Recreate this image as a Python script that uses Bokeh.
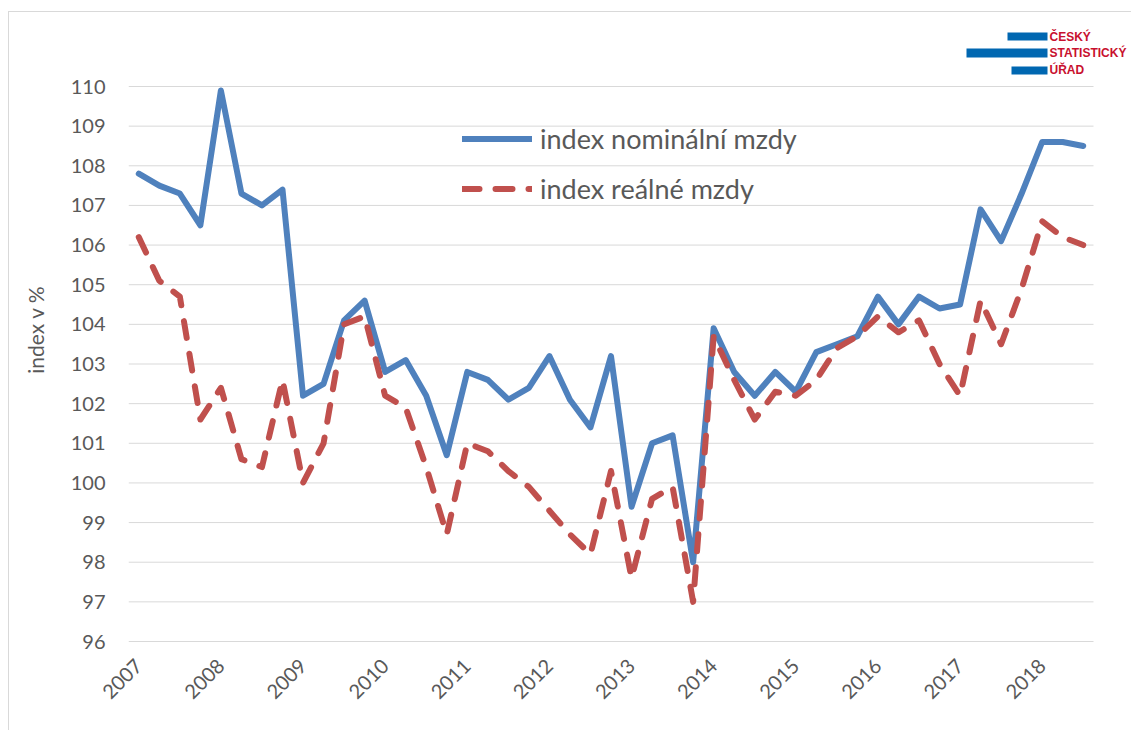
import math
from bokeh.plotting import figure
from bokeh.models import (ColumnDataSource, FixedTicker, Legend, LegendItem,
                          Label, BoxAnnotation, Range1d)
from bokeh.embed import file_html
from bokeh.resources import INLINE

# ---------------- data ----------------
years = ["2007", "2008", "2009", "2010", "2011", "2012", "2013",
         "2014", "2015", "2016", "2017", "2018"]
quarters = [f"{y}Q{q}" for y in years for q in (1, 2, 3, 4)][:47]

nominal = [107.8, 107.5, 107.3, 106.5, 109.9, 107.3, 107.0, 107.4,
           102.2, 102.5, 104.1, 104.6, 102.8, 103.1, 102.2, 100.7,
           102.8, 102.6, 102.1, 102.4, 103.2, 102.1, 101.4, 103.2,
           99.4, 101.0, 101.2, 98.0, 103.9, 102.8, 102.2, 102.8,
           102.3, 103.3, 103.5, 103.7, 104.7, 104.0, 104.7, 104.4,
           104.5, 106.9, 106.1, 107.3, 108.6, 108.6, 108.5]

real = [106.2, 105.1, 104.7, 101.6, 102.4, 100.6, 100.4, 102.6,
        100.0, 101.0, 104.0, 104.2, 102.2, 101.9, 100.4, 98.7,
        101.0, 100.8, 100.3, 99.9, 99.3, 98.7, 98.2, 100.3,
        97.6, 99.6, 99.9, 97.0, 103.7, 102.6, 101.6, 102.3,
        102.2, 102.6, 103.4, 103.7, 104.2, 103.8, 104.1, 103.0,
        102.2, 104.6, 103.5, 104.9, 106.6, 106.2, 106.0]

y_ticks = [96, 97, 98, 99, 100, 101, 102, 103, 104, 105, 106, 107, 108, 109, 110]
year_tick_pos = [0, 4, 8, 12, 16, 20, 24, 28, 32, 36, 40, 44]

series_names = ["index nominální mzdy", "index reálné mzdy"]
y_title = "index v %"
logo_lines = ["ČESKÝ", "STATISTICKÝ", "ÚŘAD"]

# ---------------- styles ----------------
BLUE = "#4F81BD"
RED = "#C0504D"
GRID = "#D9D9D9"
TXT = "#595959"
FONT = "Lato"

# layout geometry (page px): canvas origin ~ (9, 12), frame left 128, frame bottom 646
PX_X = 965 / 47          # px per quarter
PX_Y = (641 - 86) / 14   # px per index point
FRAME_W = 1123 - 119
FRAME_H = 719 - 85

x = list(range(len(quarters)))
src = ColumnDataSource(dict(x=x, q=quarters, nominal=nominal, real=real))

p = figure(width=1123, height=719, output_backend="svg", toolbar_location=None,
           tools="",
           x_range=Range1d(-0.5, -0.5 + FRAME_W / PX_X),
           y_range=Range1d(96 - 5 / PX_Y, 110 + (86 - 12) / PX_Y))
p.margin = (11, 0, 0, 8)
p.styles = {"border-left": "1px solid #D9D9D9", "border-top": "1px solid #D9D9D9"}
p.min_border_left = 119
p.min_border_right = 0
p.min_border_top = 0
p.min_border_bottom = 85
p.outline_line_color = None
p.background_fill_color = "white"
p.border_fill_color = "white"

p.xgrid.grid_line_color = None
p.ygrid.grid_line_color = None
# horizontal gridlines only across the category span
p.segment(x0=-0.5, x1=len(quarters) - 0.5, y0=y_ticks, y1=y_ticks,
          line_color=GRID, line_width=1)

p.yaxis.ticker = FixedTicker(ticks=y_ticks)
p.yaxis.axis_line_color = None
p.yaxis.major_tick_line_color = None
p.yaxis.minor_tick_line_color = None
p.yaxis.major_label_standoff = 17
p.yaxis.major_label_text_font = FONT
p.yaxis.major_label_text_font_size = "20px"
p.yaxis.major_label_text_color = TXT
p.yaxis.axis_label = y_title
p.yaxis.axis_label_text_font = FONT
p.yaxis.axis_label_text_font_size = "21px"
p.yaxis.axis_label_text_font_style = "normal"
p.yaxis.axis_label_text_color = TXT
p.yaxis.axis_label_standoff = 20

p.xaxis.ticker = FixedTicker(ticks=year_tick_pos)
p.xaxis.major_label_overrides = {t: years[i] for i, t in enumerate(year_tick_pos)}
p.xaxis.major_label_orientation = math.pi / 4
p.xaxis.axis_line_color = None
p.xaxis.major_tick_line_color = None
p.xaxis.minor_tick_line_color = None
p.xaxis.major_label_standoff = 10
p.xaxis.major_label_text_font = FONT
p.xaxis.major_label_text_font_size = "20px"
p.xaxis.major_label_text_color = TXT

r_nom = p.line("x", "nominal", source=src, line_color=BLUE, line_width=6,
               line_join="round", line_cap="round")
r_real = p.line("x", "real", source=src, line_color=RED, line_width=6,
                line_dash="17 16", line_join="round", line_cap="round")

legend = Legend(items=[LegendItem(label=series_names[0], renderers=[r_nom]),
                       LegendItem(label=series_names[1], renderers=[r_real])],
                location=(334, 441), orientation="vertical",
                glyph_width=70, glyph_height=33, label_height=33,
                label_standoff=8, spacing=17, padding=0, margin=0,
                border_line_color=None, background_fill_alpha=0,
                label_text_font=FONT, label_text_font_size="27px",
                label_text_color=TXT)
p.add_layout(legend, "center")

# logo (ČSÚ)
LOGO_BLUE = "#0067B1"
LOGO_RED = "#C8102E"
for (l, r, t, b) in [(879, 919, 614, 606), (838, 919, 598, 589), (883, 919, 580, 572)]:
    p.add_layout(BoxAnnotation(left=l, right=r, top=t, bottom=b,
                               left_units="screen", right_units="screen",
                               top_units="screen", bottom_units="screen",
                               fill_color=LOGO_BLUE, fill_alpha=1, line_color=None))
for txt, yy in zip(logo_lines, [610, 593.5, 577]):
    p.add_layout(Label(x=921, y=yy, x_units="screen", y_units="screen", text=txt,
                       text_font="Liberation Sans", text_font_style="bold",
                       text_font_size="12px", text_color=LOGO_RED,
                       text_baseline="middle", text_align="left"))

open("out.html", "w").write(file_html(p, INLINE))
